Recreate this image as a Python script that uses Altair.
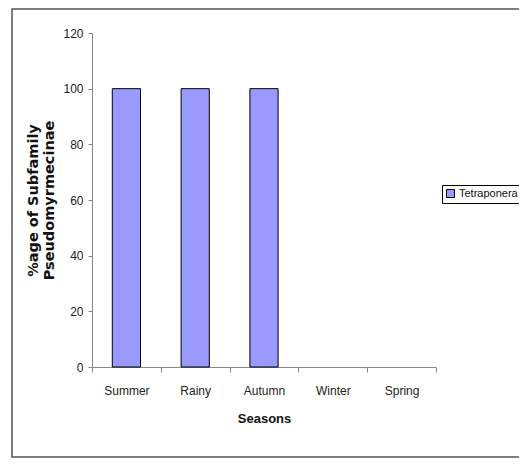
import altair as alt
import pandas as pd

seasons = ["Summer", "Rainy", "Autumn", "Winter", "Spring"]
values = [100, 100, 100, 0, 0]
genus = ["Tetraponera"] * 5

df = pd.DataFrame({"season": seasons, "value": values, "genus": genus})

LABEL = "Liberation Sans, Arial, sans-serif"
YTITLE = "DejaVu Sans, sans-serif"

bars = alt.Chart(df).mark_bar(
    width=alt.RelativeBandSize(0.41), strokeWidth=1
).encode(
    x=alt.X("season:N", sort=seasons, title="Seasons",
            scale=alt.Scale(paddingInner=0, paddingOuter=0),
            axis=alt.Axis(labelAngle=0, tickBand="extent", tickSize=5,
                          labelPadding=13, titlePadding=16)),
    y=alt.Y("value:Q", title=["%age of Subfamily", "Pseudomyrmecinae"],
            scale=alt.Scale(domain=[0, 120], nice=False),
            axis=alt.Axis(values=[0, 20, 40, 60, 80, 100, 120], tickSize=4,
                          labelPadding=5, titlePadding=6, grid=False,
                          titleFont=YTITLE, titleFontSize=14.5, titleLineHeight=16)),
    color=alt.Color("genus:N", scale=alt.Scale(range=["#9999FF"]),
                    legend=alt.Legend(title=None, orient="none", legendX=350, legendY=152,
                                      strokeColor="#000", padding=3,
                                      symbolType="square", symbolSize=64,
                                      symbolStrokeColor="#000", symbolStrokeWidth=1,
                                      symbolOpacity=1, labelOffset=3,
                                      labelFont=LABEL, labelFontSize=11,
                                      labelColor="#111")),
    stroke=alt.condition("datum.value > 0", alt.value("#000"), alt.value("transparent")),
)

frame = alt.Chart(pd.DataFrame({"a": [0]})).mark_rect(
    fill="transparent", stroke="#555", strokeWidth=1.5
).encode(
    x=alt.value(-80), x2=alt.value(700), y=alt.value(-24), y2=alt.value(424)
)

chart = alt.layer(frame, bars).properties(
    width=344, height=334,
    autosize=alt.AutoSizeParams(type="none"),
    padding={"left": 84, "top": 25, "right": 83, "bottom": 91},
).configure_view(stroke=None).configure_axis(
    domainColor="#888", tickColor="#888", labelFont=LABEL, labelFontSize=12,
    labelColor="#222", titleFont=LABEL, titleFontSize=13, titleFontWeight="bold",
    titleColor="#111"
)

chart.save("out.html", embed_options={"renderer": "svg", "actions": False})
